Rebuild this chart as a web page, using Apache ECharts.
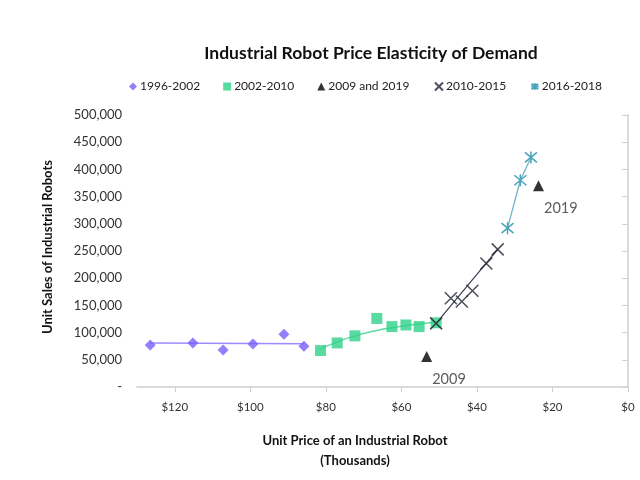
<!DOCTYPE html>
<html><head><meta charset="utf-8">
<script src="https://cdn.jsdelivr.net/npm/echarts@6/dist/echarts.min.js"></script>
<style>html,body{margin:0;padding:0;background:#fff}#c{width:640px;height:480px}</style>
</head><body><div id="c"></div>
<script>
// Unit price (thousands USD) and unit sales
const p1996 = [126.5, 115.2, 107.2, 99.3, 91.1, 85.8];
const s1996 = [77000, 81000, 68000, 79000, 97000, 75000];
const p2002 = [81.4, 77.0, 72.3, 66.5, 62.5, 58.8, 55.3, 50.8];
const s2002 = [67000, 81000, 94000, 126000, 111000, 114000, 111000, 118000];
const pTri = [53.3, 23.7];
const sTri = [56000, 370000];
const triLabels = ['2009', '2019'];
const p2010 = [50.8, 46.9, 44.0, 41.2, 37.5, 34.5];
const s2010 = [117000, 163000, 157000, 177000, 227000, 253000];
const p2016 = [31.9, 28.5, 25.7];
const s2016 = [292000, 380000, 422000];
// trend lines
const trend1996P = [126.5, 85.8];
const trend1996S = [81000, 79500];
const trend2002P = [81.4, 77.0, 72.3, 66.5, 62.5, 58.8, 55.3, 50.8];
const trend2002S = [70000, 83000, 94000, 104000, 109000, 113000, 116000, 119000];
const trend2010P = [50.8, 34.5];
const trend2010S = [117000, 253000];

const zip = (a, b) => a.map((v, i) => [v, b[i]]);
const FONT = 'Lato';
const xPath = 'path://M0,0L10,10M10,0L0,10';
const astPath = 'path://M0,0L10,10M10,0L0,10M5,-1L5,11';

const chart = echarts.init(document.getElementById('c'));
chart.setOption({
  animation: false,
  textStyle: { fontFamily: FONT },
  title: {
    text: 'Industrial Robot Price Elasticity of Demand',
    left: 366, top: 39, textAlign: 'center',
    textStyle: { fontFamily: FONT, fontSize: 17.5, fontWeight: 'bold', color: '#111' }
  },
  legend: {
    top: 75, left: 124,
    itemWidth: 8, itemHeight: 8, itemGap: 23,
    textStyle: { fontFamily: FONT, fontSize: 12, color: '#222', padding: [0, 0, 0, -2] },
    data: ['1996-2002', '2002-2010', '2009 and 2019', '2010-2015', '2016-2018']
  },
  grid: { left: 137, right: 12, top: 115, bottom: 93 },
  xAxis: {
    type: 'value', inverse: true, min: 0, max: 130, interval: 20,
    axisLine: { show: true, lineStyle: { color: '#cfcfcf', width: 1.5 } },
    axisTick: { show: true, length: 5, lineStyle: { color: '#cfcfcf' } },
    splitLine: { show: false },
    axisLabel: { showMaxLabel: false, margin: 14, fontFamily: FONT, fontSize: 11.5, color: '#333',
      formatter: v => '$' + v }
  },
  yAxis: {
    type: 'value', min: 0, max: 500000, interval: 50000,
    axisLine: { show: true, lineStyle: { color: '#cfcfcf', width: 1.5 } },
    axisTick: { show: true, length: 6, lineStyle: { color: '#cfcfcf' } },
    splitLine: { show: false },
    axisLabel: { margin: 15, fontFamily: FONT, fontSize: 13, color: '#333',
      formatter: v => v === 0 ? '-' : v.toLocaleString('en-US') }
  },
  graphic: [
    { type: 'text', x: 355, y: 434, style: { text: 'Unit Price of an Industrial Robot', align: 'center',
      font: 'bold 13px ' + FONT, fill: '#111' } },
    { type: 'text', x: 355, y: 454, style: { text: '(Thousands)', align: 'center',
      font: 'bold 13px ' + FONT, fill: '#111' } },
    { type: 'text', x: 48, y: 247, rotation: Math.PI / 2,
      style: { text: 'Unit Sales of Industrial Robots', align: 'center', verticalAlign: 'middle',
        font: 'bold 13px ' + FONT, fill: '#111' } }
  ],
  series: [
    { name: '1996-2002 trend', type: 'line', data: zip(trend1996P, trend1996S), symbol: 'none',
      lineStyle: { color: '#9a8cff', width: 1.5 }, z: 1, silent: true },
    { name: '2002-2010 trend', type: 'line', smooth: true, data: zip(trend2002P, trend2002S), symbol: 'none',
      lineStyle: { color: '#5fdca6', width: 1.5 }, z: 1, silent: true },
    { name: '2010-2015 trend', type: 'line', data: zip(trend2010P, trend2010S), symbol: 'none',
      lineStyle: { color: '#3a3d52', width: 1.2 }, z: 1, silent: true },
    { name: '1996-2002', type: 'scatter', data: zip(p1996, s1996), symbol: 'diamond', symbolSize: 11,
      itemStyle: { color: '#7b5cfa' }, z: 3 },
    { name: '2002-2010', type: 'scatter', data: zip(p2002, s2002), symbol: 'rect', symbolSize: 11,
      itemStyle: { color: '#2ed18a' }, z: 3 },
    { name: '2009 and 2019', type: 'scatter', data: zip(pTri, sTri), symbol: 'triangle', symbolSize: 11,
      itemStyle: { color: '#000' }, z: 3,
      label: { show: true, position: [11, 21], fontFamily: FONT, fontSize: 14.5, color: '#333',
        formatter: p => triLabels[p.dataIndex] } },
    { name: '2010-2015', type: 'scatter', data: zip(p2010, s2010), symbol: xPath, symbolSize: 12,
      itemStyle: { color: 'none', borderColor: '#1f2233', borderWidth: 1.5 }, z: 4 },
    { name: '2016-2018', type: 'line', data: zip(p2016, s2016), symbol: astPath, symbolSize: 12,
      showSymbol: true,
      lineStyle: { color: '#6fb4c8', width: 1.3 },
      itemStyle: { color: 'none', borderColor: '#4aa3b8', borderWidth: 1.5 }, z: 4 }
  ]
});
</script></body></html>
